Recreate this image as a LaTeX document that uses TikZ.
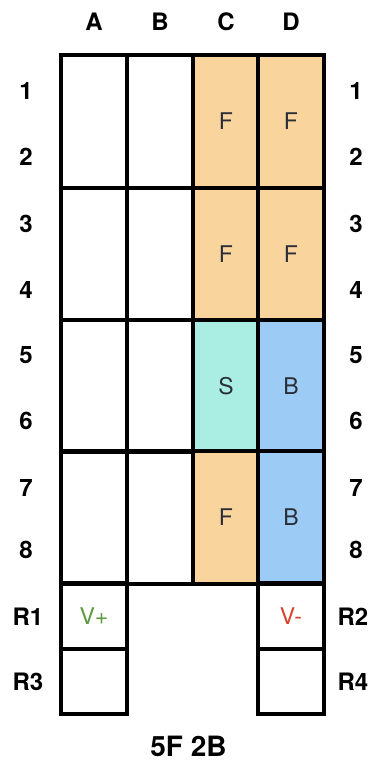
\documentclass[tikz,border=0pt]{standalone}
\usepackage{fontspec}
\setmainfont{TeX Gyre Heros}
\definecolor{fcol}{HTML}{F9D49C}
\definecolor{scol}{HTML}{A9EDE3}
\definecolor{bcol}{HTML}{9CCCF6}
\definecolor{txt}{HTML}{2A2E36}
\definecolor{vplus}{HTML}{5C9A3C}
\definecolor{vminus}{HTML}{D8402C}
\begin{document}
\begin{tikzpicture}[x=1pt,y=-1pt,
  blk/.style={draw=black,line width=4pt,minimum width=66pt,minimum height=132.5pt,inner sep=0pt,text=txt,font=\fontsize{23}{25}\selectfont},
  sq/.style={draw=black,line width=4pt,minimum width=66pt,minimum height=65.5pt,inner sep=0pt,font=\fontsize{23}{25}\selectfont},
  lab/.style={font=\fontsize{24}{26}\selectfont\bfseries,text=black}]
\useasboundingbox (0,0) rectangle (377,763);
% column labels
\foreach \c/\x in {A/94,B/160,C/226,D/291}{\node[lab] (col\c) at (\x,22) {\c};}
% row labels
\foreach \r/\y in {1/91,2/157,3/224,4/290,5/355,6/421,7/488,8/550}{
  \node[lab] (L\r) at (26,\y) {\r};
  \node[lab] (R\r) at (356,\y) {\r};}
\node[lab] (LR1) at (28,617) {R1};
\node[lab] (LR3) at (28,682) {R3};
\node[lab] (LR2) at (353,617) {R2};
\node[lab] (LR4) at (353,682) {R4};
% blocks
\foreach \k/\yc in {1/121.5,2/254,3/386,4/517.5}{
  \node[blk] (A\k) at (94,\yc) {};
  \node[blk] (B\k) at (160,\yc) {};}
\node[blk,fill=fcol] (C1) at (226,121.5) {F};
\node[blk,fill=fcol] (D1) at (291,121.5) {F};
\node[blk,fill=fcol] (C2) at (226,254) {F};
\node[blk,fill=fcol] (D2) at (291,254) {F};
\node[blk,fill=scol] (C3) at (226,386) {S};
\node[blk,fill=bcol] (D3) at (291,386) {B};
\node[blk,fill=fcol] (C4) at (226,517.5) {F};
\node[blk,fill=bcol] (D4) at (291,517.5) {B};
% bottom squares
\node[sq,text=vplus] (R1c) at (94,616) {V+};
\node[sq] (R3c) at (94,681.5) {};
\node[sq,text=vminus] (R2c) at (291,616) {V-};
\node[sq] (R4c) at (291,681.5) {};
\node[font=\fontsize{28}{30}\selectfont\bfseries] (title) at (188.5,746) {5F 2B};
\end{tikzpicture}
\end{document}
